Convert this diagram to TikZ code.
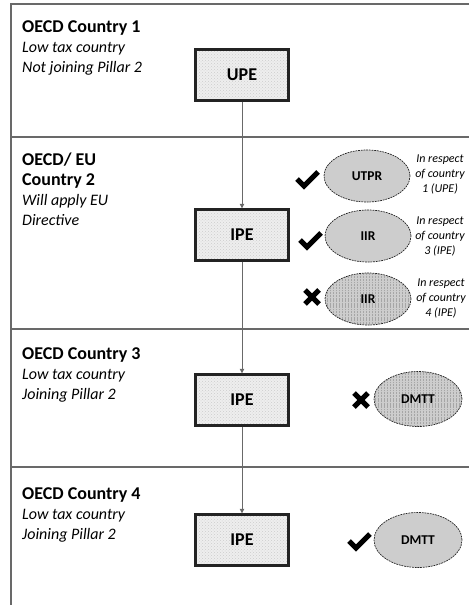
\documentclass[tikz,border=0pt]{standalone}
\usepackage{fontspec}
\setmainfont{Carlito}
\usetikzlibrary{positioning,arrows.meta,patterns,shapes.geometric}
\definecolor{FrameGray}{RGB}{105,105,105}
\definecolor{EdgeDark}{RGB}{35,35,35}
\definecolor{SoftGray}{RGB}{238,238,238}
\definecolor{OvalGray}{RGB}{205,205,205}
\newcommand\ctitle[1]{{\fontsize{18}{20}\selectfont\upshape\bfseries #1}}

\begin{document}
\begin{tikzpicture}[
	x=1pt,y=-1pt,
	country/.style={anchor=north west,align=left,inner sep=0pt,
		font=\fontsize{16}{20}\selectfont\itshape},
	entity/.style={draw=EdgeDark,line width=2.4pt,
		preaction={fill=SoftGray},
		pattern=crosshatch dots,pattern color=gray!40,
		minimum width=93pt,minimum height=51pt,
		font=\fontsize{18}{18}\selectfont\bfseries},
	rule/.style={ellipse,draw=EdgeDark,line width=0.7pt,
		dash pattern=on 1.8pt off 0.9pt,fill=OvalGray,
		minimum width=86pt,minimum height=52pt,inner sep=0pt,
		font=\fontsize{13.5}{13.5}\selectfont\bfseries},
	ruleoff/.style={rule,preaction={fill=OvalGray},
		pattern=vertical lines,pattern color=gray!70},
	note/.style={align=center,inner sep=0pt,
		font=\fontsize{12}{15}\selectfont\itshape},
	markspot/.style={inner sep=0pt,minimum size=20pt},
	stroke/.style={draw=black,line width=5pt},
	link/.style={draw=FrameGray,line width=0.8pt,
		-{Triangle[length=4.5pt,width=4.5pt]}},
	frame/.style={draw=FrameGray,line width=1.3pt},
	yes/.pic={\draw[stroke,line join=miter] (-10,0) -- (-3,7) -- (11,-7);},
	no/.pic={\draw[stroke] (-7,-7) -- (7,7) (-7,7) -- (7,-7);}
	]
	
	\useasboundingbox (0,0) rectangle (469,605);
	
	% frame and bands
	\draw[frame] (469,4) -- (11,4) -- (11,605);
	\draw[frame] (11,137) -- (469,137);
	\draw[frame] (11,329) -- (469,329);
	\draw[frame] (11,467) -- (469,467);
	
	% country labels
	\node[country] (L1) at (22,20)
	{\ctitle{OECD Country 1}\\Low tax country\\Not joining Pillar 2};
	\node[country] (L2) at (22,153)
	{\ctitle{OECD/ EU}\\\ctitle{Country 2}\\Will apply EU\\Directive};
	\node[country] (L3) at (22,347)
	{\ctitle{OECD Country 3}\\Low tax country\\Joining Pillar 2};
	\node[country] (L4) at (22,487)
	{\ctitle{OECD Country 4}\\Low tax country\\Joining Pillar 2};
	
	% entities
	\node[entity] (UPE) at (242,75) {UPE};
	\node[entity] (IPE2) at (242,235) {IPE};
	\node[entity] (IPE3) at (242,400) {IPE};
	\node[entity] (IPE4) at (242,540) {IPE};
	
	\draw[link] (UPE) -- (IPE2);
	\draw[link] (IPE2) -- (IPE3);
	\draw[link] (IPE3) -- (IPE4);
	
	% rules in country 2
	\node[rule] (UTPR) at (367,176) {UTPR};
	\node[rule] (IIRa) at (368,236) {IIR};
	\node[ruleoff] (IIRb) at (368,299) {IIR};
	
	\node[markspot] (T1) at (307,179) {};
	\node[markspot] (T2) at (310,240) {};
	\node[markspot] (X1) at (312,297) {};
	\pic at (T1) {yes};
	\pic at (T2) {yes};
	\pic at (X1) {no};
	
	\node[note] (N1) at (440,174) {In respect\\of country\\1 (UPE)};
	\node[note] (N2) at (440,236) {In respect\\of country\\3 (IPE)};
	\node[note] (N3) at (441,298) {In respect\\of country\\4 (IPE)};
	
	% top-up taxes
	\node[ruleoff,minimum width=88pt,minimum height=55pt] (DM3) at (418,399) {DMTT};
	\node[rule,minimum width=88pt,minimum height=55pt] (DM4) at (418,540) {DMTT};
	
	\node[markspot] (X2) at (361,400) {};
	\node[markspot] (T3) at (359,541) {};
	\pic at (X2) {no};
	\pic at (T3) {yes};
	
\end{tikzpicture}
\end{document}
